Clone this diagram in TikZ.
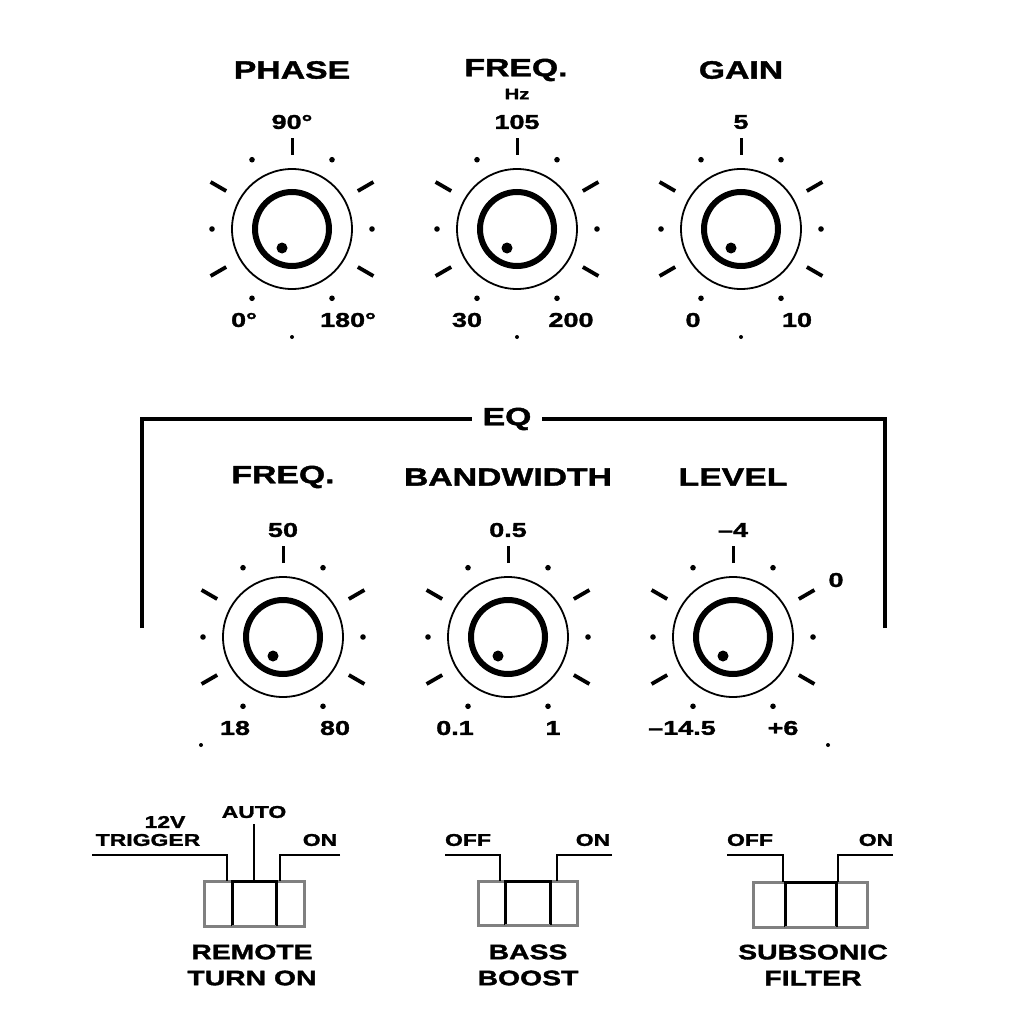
\documentclass[tikz,border=0pt]{standalone}
\usepackage{fontspec}
\setmainfont{Liberation Sans}[FakeStretch=1.35, BoldFeatures={FakeBold=1.6}]
\usetikzlibrary{positioning,calc}

\tikzset{
  knob rim/.style={line width=1.8pt},
  knob cap/.style={line width=6pt},
  tick/.style={line width=3pt},
  dash tick/.style={line width=3.8pt},
  title/.style={font=\bfseries\fontsize{25}{25}\selectfont, inner sep=0pt},
  val/.style={font=\bfseries\fontsize{20}{20}\selectfont, inner sep=0pt},
  unit/.style={font=\bfseries\fontsize{15}{15}\selectfont, inner sep=0pt},
  swlabel/.style={font=\bfseries\fontsize{17}{17}\selectfont, inner sep=0pt},
  swname/.style={font=\bfseries\fontsize{21}{26}\selectfont, inner sep=0pt, align=center},
  bracket/.style={line width=3.5pt},
  leader/.style={line width=2pt},
  sw body/.style={draw=gray, line width=3pt},
  sw slot/.style={line width=3pt},
  sw base/.style={draw=gray, line width=3pt},
  knob/.pic={
    \draw[knob rim] (0,0) circle (60);
    \draw[knob cap] (0,0) circle (37);
    \fill (-10,19) circle (5.5);
    \draw[tick] (0,-74) -- (0,-91);
    \foreach \a in {-150,-90,-30,30,90,150}
      \fill ({80*sin(\a)},{-80*cos(\a)}) circle (2.8);
    \foreach \a in {-120,-60,60,120}
      \draw[dash tick] ({76*sin(\a)},{-76*cos(\a)}) -- ({94*sin(\a)},{-94*cos(\a)});
  }
}

\begin{document}
\begin{tikzpicture}[x=1pt, y=-1pt]
  \useasboundingbox (0,0) rectangle (1024,1024);

  % top row
  \coordinate (kphase) at (292,229);
  \coordinate (kfreq) at (517,229);
  \coordinate (kgain) at (741,229);
  \pic at (kphase) {knob};
  \pic at (kfreq) {knob};
  \pic at (kgain) {knob};

  \node[title] (tphase) at (292,70) {PHASE};
  \node[title] (tfreq) at (516,70) {FREQ.};
  \node[unit] (thz) at (517,94) {Hz};
  \node[title] (tgain) at (741,70) {GAIN};

  \node[val] (phase-top) at ($(kphase)+(0,-107)$) {90°};
  \node[val] (phase-min) at ($(kphase)+(-48,91)$) {0°};
  \node[val] (phase-max) at ($(kphase)+(56,91)$) {180°};
  \node[val] (freq-top) at ($(kfreq)+(0,-107)$) {105};
  \node[val] (freq-min) at ($(kfreq)+(-50,91)$) {30};
  \node[val] (freq-max) at ($(kfreq)+(54,91)$) {200};
  \node[val] (gain-top) at ($(kgain)+(0,-107)$) {5};
  \node[val] (gain-min) at ($(kgain)+(-48,91)$) {0};
  \node[val] (gain-max) at ($(kgain)+(56,91)$) {10};

  \fill ($(kphase)+(0,108)$) circle (2);
  \fill ($(kfreq)+(0,108)$) circle (2);
  \fill ($(kgain)+(0,108)$) circle (2);

  % EQ section
  \node[title] (eq) at (507,419) {EQ};
  \coordinate (eql) at (142,628);
  \coordinate (eqr) at (885,628);
  \draw[bracket] (eql) |- ([xshift=-10pt]eq.west);
  \draw[bracket] (eqr) |- ([xshift=10pt]eq.east);

  \coordinate (keqf) at (283,637);
  \coordinate (kbw) at (508,637);
  \coordinate (klevel) at (733,637);
  \pic at (keqf) {knob};
  \pic at (kbw) {knob};
  \pic at (klevel) {knob};

  \node[title] (teqf) at (283,477) {FREQ.};
  \node[title] (tbw) at (508,477) {BANDWIDTH};
  \node[title] (tlevel) at (733,477) {LEVEL};

  \node[val] (eqf-top) at ($(keqf)+(0,-107)$) {50};
  \node[val] (eqf-min) at ($(keqf)+(-48,91)$) {18};
  \node[val] (eqf-max) at ($(keqf)+(52,91)$) {80};
  \node[val] (bw-top) at ($(kbw)+(0,-107)$) {0.5};
  \node[val] (bw-min) at ($(kbw)+(-53,91)$) {0.1};
  \node[val] (bw-max) at ($(kbw)+(45,91)$) {1};
  \node[val] (level-top) at ($(klevel)+(0,-107)$) {–4};
  \node[val] (level-mid) at ($(klevel)+(103,-57)$) {0};
  \node[val] (level-min) at ($(klevel)+(-51,91)$) {–14.5};
  \node[val] (level-max) at ($(klevel)+(50,91)$) {+6};

  \fill (201,745) circle (2);
  \fill (828,745) circle (2);

  % switches
  \draw[sw body] (204,881) rectangle (304,926);
  \draw[sw slot] (232,926) -- (232,881) -- (276,881) -- (276,926);
  \draw[sw base] (232,926) -- (276,926);
  \coordinate (rtrig) at (227,881);
  \coordinate (rauto) at (254,881);
  \coordinate (ron) at (280,881);
  \node[swlabel] (l12v) at (165,822) {12V};
  \node[swlabel] (ltrig) at (148,840) {TRIGGER};
  \node[swlabel] (lauto) at (254,812) {AUTO};
  \node[swlabel] (lron) at (320,840) {ON};
  \coordinate (rtrig-end) at (92,855);
  \coordinate (ron-end) at (340,855);
  \draw[leader] (rtrig-end) -| (rtrig);
  \draw[leader] (lauto.south) ++(0,6) -- (rauto);
  \draw[leader] (ron-end) -| (ron);
  \node[swname] (nremote) at (252,965) {REMOTE\\TURN ON};

  \draw[sw body] (478,881) rectangle (577,925);
  \draw[sw slot] (505,925) -- (505,881) -- (550,881) -- (550,925);
  \draw[sw base] (505,925) -- (550,925);
  \coordinate (boff) at (500,881);
  \coordinate (bon) at (557,881);
  \coordinate (boff-end) at (445,855);
  \coordinate (bon-end) at (612,855);
  \node[swlabel] (lboff) at (468,840) {OFF};
  \node[swlabel] (lbon) at (593,840) {ON};
  \draw[leader] (boff-end) -| (boff);
  \draw[leader] (bon-end) -| (bon);
  \node[swname] (nbass) at (528,965) {BASS\\BOOST};

  \draw[sw body] (753,882) rectangle (867,927);
  \draw[sw slot] (785,927) -- (785,882) -- (836,882) -- (836,927);
  \draw[sw base] (785,927) -- (836,927);
  \coordinate (soff) at (783,882);
  \coordinate (son) at (838,882);
  \coordinate (soff-end) at (727,855);
  \coordinate (son-end) at (893,855);
  \node[swlabel] (lsoff) at (750,840) {OFF};
  \node[swlabel] (lson) at (876,840) {ON};
  \draw[leader] (soff-end) -| (soff);
  \draw[leader] (son-end) -| (son);
  \node[swname] (nsub) at (813,965) {SUBSONIC\\FILTER};
\end{tikzpicture}
\end{document}
